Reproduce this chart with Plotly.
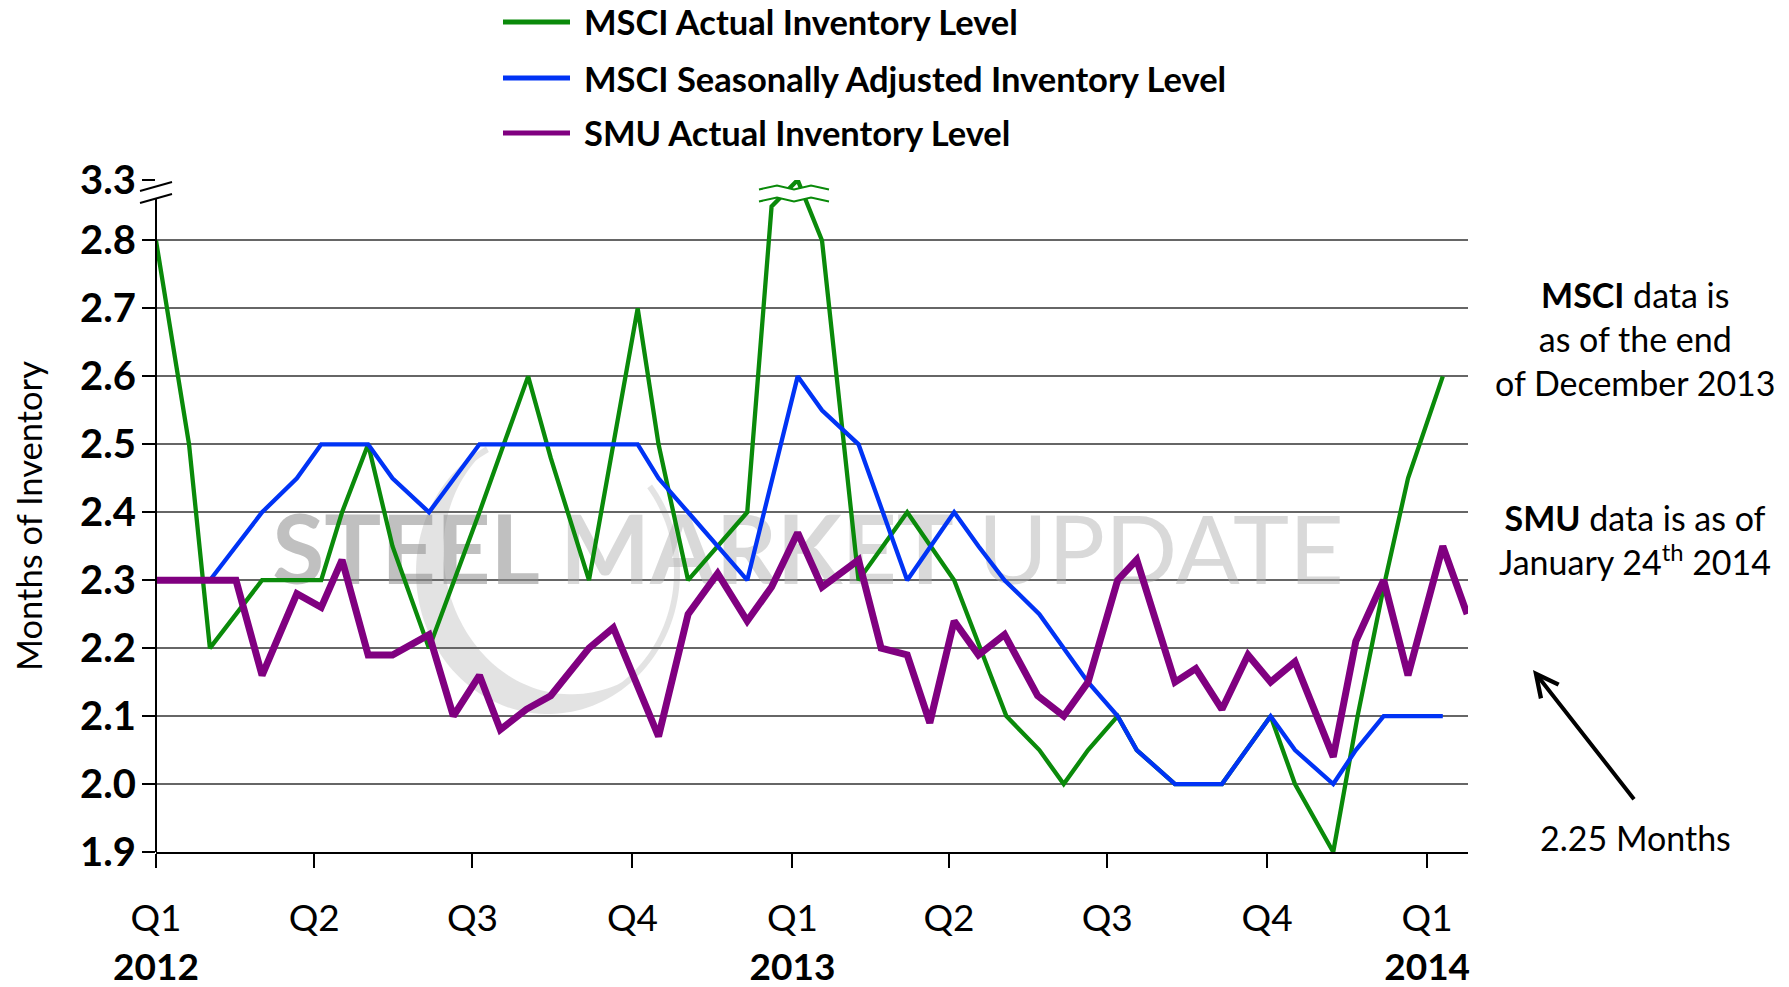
import numpy as np
import plotly.graph_objects as go

# ---------------- data ----------------
msci_actual_dates = ["2012-01-01", "2012-01-20", "2012-02-01", "2012-03-02", "2012-04-05", "2012-04-17",
                     "2012-05-02", "2012-05-16", "2012-06-06", "2012-07-05", "2012-08-02", "2012-08-15",
                     "2012-09-06", "2012-10-04", "2012-10-16", "2012-11-02", "2012-12-06", "2012-12-20",
                     "2013-01-04", "2013-01-18", "2013-02-08", "2013-03-08", "2013-04-04", "2013-05-04",
                     "2013-05-23", "2013-06-06", "2013-06-20", "2013-07-07", "2013-07-18", "2013-08-09",
                     "2013-09-05", "2013-10-03", "2013-10-17", "2013-11-08", "2013-11-22", "2013-12-07",
                     "2013-12-21", "2014-01-10"]
msci_actual = [2.8, 2.5, 2.2, 2.3, 2.3, 2.4,
               2.5, 2.35, 2.2, 2.4, 2.6, 2.48,
               2.3, 2.7, 2.5, 2.3, 2.4, 2.85,
               3.3, 2.8, 2.3, 2.4, 2.3, 2.1,
               2.05, 2.0, 2.05, 2.1, 2.05, 2.0,
               2.0, 2.1, 2.0, 1.9, 2.1, 2.29,
               2.45, 2.6]

msci_sa_dates = ["2012-02-01", "2012-02-16", "2012-03-02", "2012-03-22", "2012-04-05", "2012-05-02",
                 "2012-05-16", "2012-06-06", "2012-07-05", "2012-10-04", "2012-10-16", "2012-11-02",
                 "2012-12-06", "2013-01-04", "2013-01-18", "2013-02-08", "2013-03-08", "2013-04-04",
                 "2013-04-18", "2013-05-03", "2013-05-23", "2013-06-20", "2013-07-07", "2013-07-18",
                 "2013-08-09", "2013-09-05", "2013-10-03", "2013-10-17", "2013-11-08", "2013-11-21",
                 "2013-12-07", "2014-01-10"]
msci_sa = [2.3, 2.35, 2.4, 2.45, 2.5, 2.5,
           2.45, 2.4, 2.5, 2.5, 2.45, 2.4,
           2.3, 2.6, 2.55, 2.5, 2.3, 2.4,
           2.35, 2.3, 2.25, 2.15, 2.1, 2.05,
           2.0, 2.0, 2.1, 2.05, 2.0, 2.05,
           2.1, 2.1]

smu_dates = ["2012-01-01", "2012-02-16", "2012-03-02", "2012-03-22", "2012-04-05", "2012-04-17",
             "2012-05-02", "2012-05-16", "2012-06-06", "2012-06-20", "2012-07-05", "2012-07-17",
             "2012-08-01", "2012-08-15", "2012-09-06", "2012-09-20", "2012-10-16", "2012-11-02",
             "2012-11-19", "2012-12-06", "2012-12-20", "2013-01-04", "2013-01-18", "2013-02-08",
             "2013-02-21", "2013-03-08", "2013-03-21", "2013-04-04", "2013-04-18", "2013-05-03",
             "2013-05-22", "2013-06-06", "2013-06-20", "2013-07-07", "2013-07-18", "2013-08-09",
             "2013-08-21", "2013-09-05", "2013-09-20", "2013-10-03", "2013-10-17", "2013-11-08",
             "2013-11-21", "2013-12-07", "2013-12-21", "2014-01-10", "2014-01-24"]
smu_actual = [2.3, 2.3, 2.16, 2.28, 2.26, 2.33,
              2.19, 2.19, 2.22, 2.1, 2.16, 2.08,
              2.11, 2.13, 2.2, 2.23, 2.07, 2.25,
              2.31, 2.24, 2.29, 2.37, 2.29, 2.33,
              2.2, 2.19, 2.09, 2.24, 2.19, 2.22,
              2.13, 2.1, 2.15, 2.3, 2.33, 2.15,
              2.17, 2.11, 2.19, 2.15, 2.18, 2.04,
              2.21, 2.3, 2.16, 2.35, 2.25]

series_names = ["MSCI Actual Inventory Level", "MSCI Seasonally Adjusted Inventory Level",
                "SMU Actual Inventory Level"]
series_colors = ["#0A8A0A", "#0033F5", "#800080"]

quarter_ticks = ["2012-01-01", "2012-04-01", "2012-07-01", "2012-10-01", "2013-01-01",
                 "2013-04-01", "2013-07-01", "2013-10-01", "2014-01-01"]
quarter_labels = ["Q1<br><b>2012</b>", "Q2", "Q3", "Q4", "Q1<br><b>2013</b>", "Q2", "Q3", "Q4",
                  "Q1<br><b>2014</b>"]
y_tick_values = [1.9, 2.0, 2.1, 2.2, 2.3, 2.4, 2.5, 2.6, 2.7, 2.8, 3.3]
y_tick_labels = ["1.9", "2.0", "2.1", "2.2", "2.3", "2.4", "2.5", "2.6", "2.7", "2.8", "3.3"]

# ---------------- broken axis mapping ----------------
BREAK_START = 2.85
BREAK_VALUE = 3.3
BREAK_DISPLAY = 2.889


def to_axis(v):
    if v <= BREAK_START:
        return v
    return BREAK_START + (v - BREAK_START) * (BREAK_DISPLAY - BREAK_START) / (BREAK_VALUE - BREAK_START)


# ---------------- layout geometry (pixels, in window coordinates) ----------------
WIN_W, WIN_H = 1789, 987
OFF = 8  # default page body margin
W, H = WIN_W - OFF, WIN_H - OFF
PL, PR, PT, PB = 156, 1468, 180, 852
PW, PH = PR - PL, PB - PT
FONT = "Lato"


def px(xf):
    return (xf - PL) / PW


def py(yf):
    return (PB - yf) / PH


fig = go.Figure()

# watermark text (behind lines)
fig.add_trace(go.Scatter(
    x=["2013-01-10"], y=[2.33], mode="text",
    text=["<b><span style='color:rgba(140,140,140,0.55)'>STEEL</span> "
          "<span style='color:rgba(170,170,170,0.45)'>MARKET</span></b> "
          "<span style='color:rgba(170,170,170,0.45)'>UPDATE</span>"],
    textfont=dict(family=FONT, size=95),
    hoverinfo="skip", showlegend=False))

for dates, vals, name, color, width in [
        (msci_actual_dates, msci_actual, series_names[0], series_colors[0], 4.3),
        (msci_sa_dates, msci_sa, series_names[1], series_colors[1], 4.3),
        (smu_dates, smu_actual, series_names[2], series_colors[2], 7)]:
    fig.add_trace(go.Scatter(x=dates, y=[to_axis(v) for v in vals], mode="lines", name=name,
                             line=dict(color=color, width=width), showlegend=False))

shapes = []
# crescent logo watermark
th = np.radians(np.linspace(118, 398, 120))
cx, cy, rx, ry = 548, 572, 132, 142
wid = 6 + 28 * np.clip(np.cos(th - np.radians(215)), 0, None)
outer = [(cx + rx * np.cos(t), cy - ry * np.sin(t)) for t in th]
inner = [(cx + (rx - w) * np.cos(t), cy - (ry - w) * np.sin(t)) for t, w in zip(th, wid)][::-1]
pts = outer + inner
path = "M " + " L ".join(f"{px(a):.5f},{py(b):.5f}" for a, b in pts) + " Z"
shapes.append(dict(type="path", xref="paper", yref="paper", path=path, layer="below",
                   fillcolor="rgba(200,200,200,0.5)", line=dict(width=0)))

# y axis line with break marks
shapes.append(dict(type="line", xref="paper", yref="paper", x0=0, x1=0, y0=0, y1=py(199),
                   line=dict(color="black", width=2)))
for yy in (191, 203):
    shapes.append(dict(type="line", xref="paper", yref="paper", x0=px(140), x1=px(172),
                       y0=py(yy), y1=py(yy - 9), line=dict(color="black", width=2)))

# break marks across the green peak
zx = [759, 777, 794, 811, 829]
top = [189.5, 185.5, 189.5, 185.5, 189.5]
bot = [y + 12 for y in top]
poly = list(zip(zx, top)) + list(zip(zx[::-1], bot[::-1]))
shapes.append(dict(type="path", xref="paper", yref="paper",
                   path="M " + " L ".join(f"{px(a):.5f},{py(b):.5f}" for a, b in poly) + " Z",
                   fillcolor="white", line=dict(width=0)))
for ys in (top, bot):
    shapes.append(dict(type="path", xref="paper", yref="paper",
                       path="M " + " L ".join(f"{px(a):.5f},{py(b):.5f}" for a, b in zip(zx, ys)),
                       line=dict(color=series_colors[0], width=2)))

# legend samples
legend_y = [22, 78, 133]
annotations = []
for name, color, ly in zip(series_names, series_colors, legend_y):
    shapes.append(dict(type="line", xref="paper", yref="paper", x0=px(503), x1=px(570),
                       y0=py(ly), y1=py(ly), line=dict(color=color, width=5)))
    annotations.append(dict(xref="paper", yref="paper", x=px(582), y=py(ly), xanchor="left",
                            yanchor="middle", showarrow=False, text=f"<b>{name}</b>",
                            font=dict(family=FONT, size=34.5, color="black")))

annotations += [
    dict(xref="paper", yref="paper", x=px(28), y=py(516), textangle=-90, showarrow=False,
         text="Months of Inventory", font=dict(family=FONT, size=34.5, color="black"),
         xanchor="center", yanchor="middle"),
    dict(xref="paper", yref="paper", x=px(1635), y=py(338), showarrow=False,
         text="<b>MSCI</b> data is<br>as of the end<br>of December 2013",
         font=dict(family=FONT, size=34, color="black"), align="center",
         xanchor="center", yanchor="middle"),
    dict(xref="paper", yref="paper", x=px(1635), y=py(539), showarrow=False,
         text="<b>SMU</b> data is as of<br>January 24<sup>th</sup> 2014",
         font=dict(family=FONT, size=34, color="black"), align="center",
         xanchor="center", yanchor="middle"),
    dict(xref="paper", yref="paper", x=px(1635), y=py(837), showarrow=False,
         text="2.25 Months", font=dict(family=FONT, size=34, color="black"),
         xanchor="center", yanchor="middle"),
    dict(xref="paper", yref="paper", x=px(1533), y=py(670), ax=104, ay=133, text=" ",
         showarrow=True, arrowhead=5, arrowsize=1.1, arrowwidth=4, arrowcolor="black",
         font=dict(size=10)),
]

fig.update_layout(
    width=W, height=H,
    margin=dict(l=PL - OFF, r=WIN_W - PR, t=PT - OFF, b=WIN_H - PB, pad=0),
    paper_bgcolor="white", plot_bgcolor="white",
    font=dict(family=FONT, color="black"),
    shapes=shapes, annotations=annotations,
    showlegend=False,
    xaxis=dict(type="date", range=["2012-01-01", "2014-01-24 12:00"], tickmode="array",
               tickvals=quarter_ticks, ticktext=quarter_labels, ticks="outside", ticklen=14,
               tickwidth=2, tickcolor="black", showgrid=False, showline=True, linecolor="black",
               linewidth=2, zeroline=False, tickfont=dict(family=FONT, size=37, color="black"),
               ticklabelstandoff=19, automargin=False),
    yaxis=dict(range=[1.9, BREAK_DISPLAY], tickmode="array",
               tickvals=[to_axis(v) for v in y_tick_values], ticktext=y_tick_labels,
               ticks="outside", ticklen=13, tickwidth=2, tickcolor="black",
               showgrid=True, gridcolor="#666666", gridwidth=1.5, showline=False,
               zeroline=False, tickfont=dict(family=FONT, size=40, color="black", weight="bold"),
               ticklabelstandoff=-2, automargin=False),
)

fig.write_html("out.html")
